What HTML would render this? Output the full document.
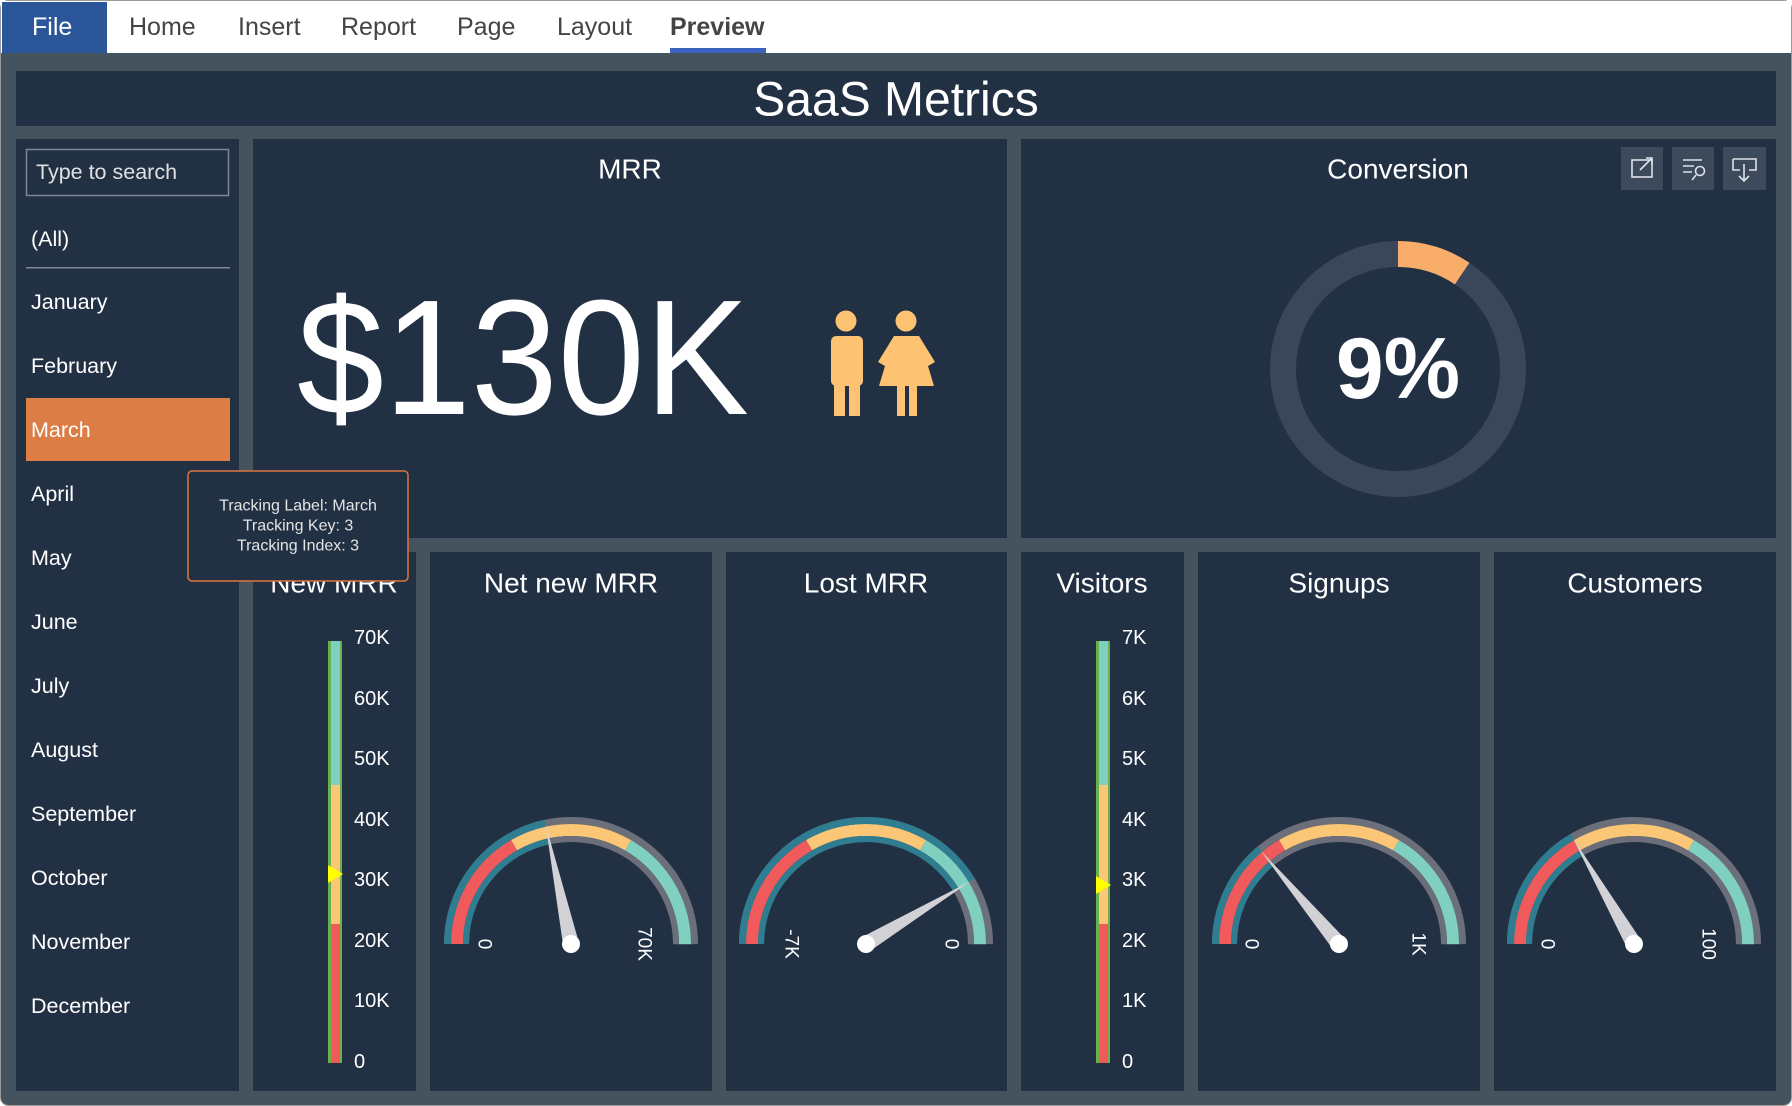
<!DOCTYPE html>
<html><head><meta charset="utf-8"><style>
html,body{margin:0;padding:0;background:#fff;}
svg{display:block;font-family:"Liberation Sans",Arial,sans-serif;}
</style></head><body>
<svg width="1792" height="1106" viewBox="0 0 1792 1106" xmlns="http://www.w3.org/2000/svg">
<defs>
<g id="gauge">
  <circle r="123.5" fill="none" stroke="#6c6f7a" stroke-width="7" transform="rotate(180)" stroke-dasharray="388 800"/>
  <circle r="114" fill="none" stroke="#f05a5a" stroke-width="12" transform="rotate(180)" stroke-dasharray="119.4 800"/>
  <circle r="114" fill="none" stroke="#fbc676" stroke-width="12" transform="rotate(180)" stroke-dasharray="119.4 800" stroke-dashoffset="-119.4"/>
  <circle r="114" fill="none" stroke="#80d0c0" stroke-width="12" transform="rotate(180)" stroke-dasharray="119.4 800" stroke-dashoffset="-238.8"/>
  <circle r="105" fill="none" stroke="#6c6f7a" stroke-width="6" transform="rotate(180)" stroke-dasharray="330 800"/>
</g>
<g id="needle">
  <polygon points="-122,0 0,-8 0,8" fill="#d2d2d6"/>
</g>
</defs>

<rect x="0.5" y="0.5" width="1791" height="1105" rx="8" fill="#44535e" stroke="#9a9a9a"/>
<rect x="1" y="1" width="1790" height="52" fill="#fff"/>
<rect x="2" y="2" width="105" height="51" fill="#2b579a"/>
<g font-size="25" fill="#444" dominant-baseline="central">
<text x="32" y="27" fill="#fff">File</text>
<text x="129" y="27">Home</text>
<text x="238" y="27">Insert</text>
<text x="341" y="27">Report</text>
<text x="457" y="27">Page</text>
<text x="557" y="27">Layout</text>
<text x="670" y="27" font-weight="bold">Preview</text>
</g>
<rect x="670" y="48" width="96" height="5" fill="#3b64c0"/>

<rect x="16" y="71" width="1760" height="55" fill="#223044"/>
<text x="896" y="100" font-size="48" fill="#fff" text-anchor="middle" dominant-baseline="central">SaaS Metrics</text>

<g fill="#223044">
<rect x="16" y="139" width="223" height="952"/>
<rect x="253" y="139" width="754" height="399"/>
<rect x="1021" y="139" width="755" height="399"/>
<rect x="253" y="552" width="163" height="539"/>
<rect x="430" y="552" width="282" height="539"/>
<rect x="726" y="552" width="281" height="539"/>
<rect x="1021" y="552" width="163" height="539"/>
<rect x="1198" y="552" width="282" height="539"/>
<rect x="1494" y="552" width="282" height="539"/>
</g>

<rect x="26.5" y="149.5" width="202" height="46" fill="none" stroke="#7d8794" stroke-width="1.5"/>
<g font-size="21.5" fill="#fff" dominant-baseline="central">
<text x="36" y="172" fill="#e0e0e0">Type to search</text>
<text x="31" y="239">(All)</text>
<rect x="26" y="267" width="204" height="1.5" fill="#7d8794"/>
<text x="31" y="302">January</text>
<text x="31" y="366">February</text>
<rect x="26" y="398" width="204" height="63" fill="#dc7d45"/>
<text x="31" y="430">March</text>
<text x="31" y="494">April</text>
<text x="31" y="558">May</text>
<text x="31" y="622">June</text>
<text x="31" y="686">July</text>
<text x="31" y="750">August</text>
<text x="31" y="814">September</text>
<text x="31" y="878">October</text>
<text x="31" y="942">November</text>
<text x="31" y="1006">December</text>
</g>

<text x="630" y="169" font-size="28" fill="#fff" text-anchor="middle" dominant-baseline="central">MRR</text>
<text x="297" y="414" font-size="164" fill="#fff" textLength="452" lengthAdjust="spacingAndGlyphs">$130K</text>
<g fill="#fdc272">
<circle cx="846" cy="321" r="10.5"/>
<rect x="831" y="336" width="32" height="50" rx="5"/>
<rect x="834" y="380" width="11" height="36"/>
<rect x="849" y="380" width="11" height="36"/>
<circle cx="906" cy="321" r="10.5"/>
<polygon points="894,336 919,336 934,386 879,386"/>
<polygon points="894,336 900,340 885,366 878,362"/>
<polygon points="919,336 913,340 928,366 935,362"/>
<rect x="897" y="384" width="8" height="32"/>
<rect x="909" y="384" width="8" height="32"/>
</g>

<text x="1398" y="169" font-size="28" fill="#fff" text-anchor="middle" dominant-baseline="central">Conversion</text>
<g fill="#3c4a5c">
<rect x="1621" y="147" width="42" height="43"/>
<rect x="1672" y="147" width="42" height="43"/>
<rect x="1723" y="147" width="43" height="43"/>
</g>
<g fill="none" stroke="#dde2e8" stroke-width="1.6">
<rect x="1632" y="160" width="20" height="17"/><path d="M1640 170 L1652 158 M1646 158 L1652 158 L1652 164"/>
<path d="M1683 160 H1702 M1683 166 H1694 M1683 172 H1692"/><circle cx="1700" cy="171" r="4.5"/><path d="M1696 175 L1692 180"/>
<path d="M1733 159 H1756 V170 H1749 M1740 170 H1733 V159 M1744 164 V181 M1739 176 L1744 181 L1749 176"/>
</g>
<circle cx="1398" cy="369" r="115" fill="none" stroke="#3a475a" stroke-width="26"/>
<circle cx="1398" cy="369" r="115" fill="none" stroke="#f8ad6a" stroke-width="26" stroke-dasharray="68 800" transform="rotate(-90 1398 369)"/>
<text x="1398" y="369" font-size="86" font-weight="bold" fill="#fff" text-anchor="middle" dominant-baseline="central">9%</text>

<g font-size="28" fill="#fff" text-anchor="middle" dominant-baseline="central">
<text x="334" y="583">New MRR</text>
<text x="571" y="583">Net new MRR</text>
<text x="866" y="583">Lost MRR</text>
<text x="1102" y="583">Visitors</text>
<text x="1339" y="583">Signups</text>
<text x="1635" y="583">Customers</text>
</g>

<g>
<rect x="328" y="641" width="14" height="422" fill="#6ab04c"/>
<rect x="331" y="924" width="9" height="139" fill="#f05a5a"/>
<rect x="331" y="785" width="9" height="139" fill="#fbc676"/>
<rect x="331" y="641" width="9" height="144" fill="#80d0c0"/>
<polygon points="328,865 343,874 328,883" fill="#ffff00"/>
<rect x="1096" y="641" width="14" height="422" fill="#6ab04c"/>
<rect x="1099" y="924" width="9" height="139" fill="#f05a5a"/>
<rect x="1099" y="785" width="9" height="139" fill="#fbc676"/>
<rect x="1099" y="641" width="9" height="144" fill="#80d0c0"/>
<polygon points="1096,876 1111,885 1096,894" fill="#ffff00"/>
</g>
<g font-size="20" fill="#fff" dominant-baseline="central">
<text x="354" y="1062">0</text><text x="354" y="1001">10K</text><text x="354" y="941">20K</text><text x="354" y="880">30K</text>
<text x="354" y="820">40K</text><text x="354" y="759">50K</text><text x="354" y="699">60K</text><text x="354" y="638">70K</text>
<text x="1122" y="1062">0</text><text x="1122" y="1001">1K</text><text x="1122" y="941">2K</text><text x="1122" y="880">3K</text>
<text x="1122" y="820">4K</text><text x="1122" y="759">5K</text><text x="1122" y="699">6K</text><text x="1122" y="638">7K</text>
</g>

<g transform="translate(571,944)">
<use href="#gauge"/>
<circle r="123.5" fill="none" stroke="#2e7d90" stroke-width="7" transform="rotate(180)" stroke-dasharray="168 800"/>
<circle r="105" fill="none" stroke="#2e7d90" stroke-width="6" transform="rotate(180)" stroke-dasharray="143 800"/>
<use href="#needle" transform="rotate(78)"/><circle r="9" fill="#fff"/>
<g font-size="19" fill="#fff" text-anchor="middle" dominant-baseline="central">
<text transform="translate(-87,0) rotate(90)">0</text><text transform="translate(73,0) rotate(90)">70K</text></g>
</g>
<g transform="translate(866,944)">
<use href="#gauge"/>
<circle r="123.5" fill="none" stroke="#2e7d90" stroke-width="7" transform="rotate(180)" stroke-dasharray="321 800"/>
<circle r="105" fill="none" stroke="#2e7d90" stroke-width="6" transform="rotate(180)" stroke-dasharray="273 800"/>
<use href="#needle" transform="rotate(149)"/><circle r="9" fill="#fff"/>
<g font-size="19" fill="#fff" text-anchor="middle" dominant-baseline="central">
<text transform="translate(-75,0) rotate(90)">-7K</text><text transform="translate(85,0) rotate(90)">0</text></g>
</g>
<g transform="translate(1339,944)">
<use href="#gauge"/>
<circle r="123.5" fill="none" stroke="#2e7d90" stroke-width="7" transform="rotate(180)" stroke-dasharray="108 800"/>
<circle r="105" fill="none" stroke="#2e7d90" stroke-width="6" transform="rotate(180)" stroke-dasharray="92 800"/>
<use href="#needle" transform="rotate(50)"/><circle r="9" fill="#fff"/>
<g font-size="19" fill="#fff" text-anchor="middle" dominant-baseline="central">
<text transform="translate(-88,0) rotate(90)">0</text><text transform="translate(79,0) rotate(90)">1K</text></g>
</g>
<g transform="translate(1634,944)">
<use href="#gauge"/>
<circle r="123.5" fill="none" stroke="#2e7d90" stroke-width="7" transform="rotate(180)" stroke-dasharray="129 800"/>
<circle r="105" fill="none" stroke="#2e7d90" stroke-width="6" transform="rotate(180)" stroke-dasharray="110 800"/>
<use href="#needle" transform="rotate(60)"/><circle r="9" fill="#fff"/>
<g font-size="19" fill="#fff" text-anchor="middle" dominant-baseline="central">
<text transform="translate(-87,0) rotate(90)">0</text><text transform="translate(74,0) rotate(90)">100</text></g>
</g>

<rect x="188" y="471" width="220" height="110" rx="4" fill="#223044" stroke="#d9773f" stroke-width="1.5"/>
<g font-size="16" fill="#e4e4e4" text-anchor="middle" dominant-baseline="central">
<text x="298" y="506">Tracking Label: March</text>
<text x="298" y="526">Tracking Key: 3</text>
<text x="298" y="546">Tracking Index: 3</text>
</g>
</svg>
</body></html>
